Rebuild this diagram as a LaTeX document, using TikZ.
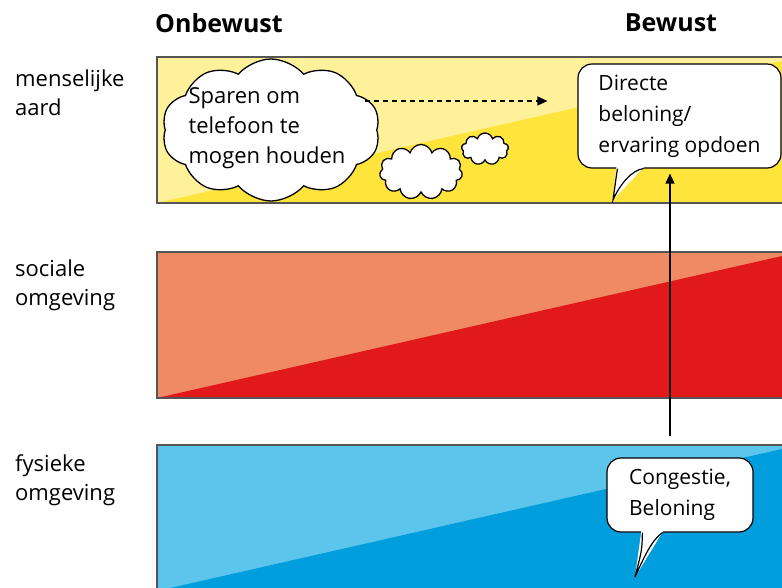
\documentclass[tikz,border=0pt]{standalone}
\usepackage{fontspec}
\setmainfont{Open Sans}
\usetikzlibrary{shapes.symbols,arrows.meta,calc}
\definecolor{geellicht}{HTML}{FFF09A}
\definecolor{geeldonker}{HTML}{FFE43C}
\definecolor{roodlicht}{HTML}{F08A64}
\definecolor{rooddonker}{HTML}{E1191A}
\definecolor{blauwlicht}{HTML}{5BC5EC}
\definecolor{blauwdonker}{HTML}{009EDD}
\definecolor{randgrijs}{HTML}{555555}
\begin{document}
\begin{tikzpicture}[x=1pt,y=-1pt,
    tekst/.style={font=\fontsize{22}{29}\selectfont, align=left, inner sep=0pt},
    kop/.style={font=\fontsize{25}{28}\selectfont\bfseries, inner sep=0pt},
    wolk/.style={cloud, cloud puffs=11, aspect=1.6, draw=black, fill=white, line width=1.3pt, inner sep=0pt},
    ballon/.style={draw=black, fill=white, rounded corners=14pt, line width=1.2pt, align=left, inner sep=0pt, font=\fontsize{21}{31}\selectfont},
    rand/.style={draw=randgrijs, line width=1.5pt},
    pijl/.style={draw=black, line width=1.3pt, -{Triangle[length=10pt,width=9pt]}}]
    \clip (0,0) rectangle (782,587);
    % banden
    \fill[geellicht] (157,57) rectangle (790,203);
    \fill[geeldonker] (157,203) -- (782,61) -- (790,61) -- (790,203) -- cycle;
    \draw[rand] (790,57) -- (157,57) -- (157,203) -- (790,203);
    \fill[roodlicht] (157,252) rectangle (790,398);
    \fill[rooddonker] (157,398) -- (782,256) -- (790,256) -- (790,398) -- cycle;
    \draw[rand] (790,252) -- (157,252) -- (157,398) -- (790,398);
    \fill[blauwlicht] (157,445) rectangle (790,600);
    \fill[blauwdonker] (157,591) -- (782,449) -- (790,449) -- (790,600) -- (157,600) -- cycle;
    \draw[rand] (790,445) -- (157,445) -- (157,600);
    % koppen en labels
    \node[kop] (onbewust) at (219,23) {Onbewust};
    \node[kop] (bewust) at (671,23) {Bewust};
    \node[tekst, anchor=north west] (aard) at (15,70) {menselijke\\aard};
    \node[tekst, anchor=north west] (sociaal) at (15,260) {sociale\\omgeving};
    \node[tekst, anchor=north west] (fysiek) at (15,454) {fysieke\\omgeving};
    % wolken
    \node[wolk, minimum width=83pt, minimum height=55pt] (wolkje1) at (421,172) {};
    \node[wolk, cloud puffs=9, minimum width=47pt, minimum height=32pt] (wolkje2) at (485,149) {};
    \node[wolk, cloud puffs=10, cloud puff arc=100, minimum width=218pt, minimum height=142pt,
        label={[tekst, font=\fontsize{22}{30}\selectfont, xshift=-4pt, yshift=2pt]center:Sparen om\\telefoon te\\mogen houden}] (sparen) at (271,130) {};
    % ballonnen
    \node[ballon, minimum width=203pt, minimum height=104pt] (beloning) at (679.5,116) {Directe\\beloning/\\ervaring opdoen};
    \coordinate (punt1) at (613,200);
    \fill[white] ($(beloning.south west)+(39,-2)$) -- (punt1) -- ($(beloning.south west)+(67,-2)$) -- cycle;
    \draw[line width=1.2pt] ($(beloning.south west)+(40,0)$) -- (punt1)
        .. controls (620,184) and (632,170) .. ($(beloning.south west)+(66,0)$);
    \node[ballon, minimum width=146pt, minimum height=74pt] (congestie) at (680,495) {Congestie,\\Beloning};
    \coordinate (punt2) at (635,577);
    \fill[white] ($(congestie.south west)+(35,-2)$) -- (punt2) -- ($(congestie.south west)+(57,-2)$) -- cycle;
    \draw[line width=1.2pt] ($(congestie.south west)+(36,0)$) .. controls (642,550) .. (punt2)
        .. controls (645,555) and (652,540) .. ($(congestie.south west)+(56,0)$);
    % pijlen
    \coordinate (pijlvoet) at (670,436);
    \draw[pijl, shorten >=5pt] (pijlvoet) -- (pijlvoet |- beloning.south);
    \coordinate (stippelbegin) at (365,101);
    \draw[pijl, dash pattern=on 5pt off 4pt, shorten >=30pt] (stippelbegin) -- (stippelbegin -| beloning.west);
\end{tikzpicture}
\end{document}
